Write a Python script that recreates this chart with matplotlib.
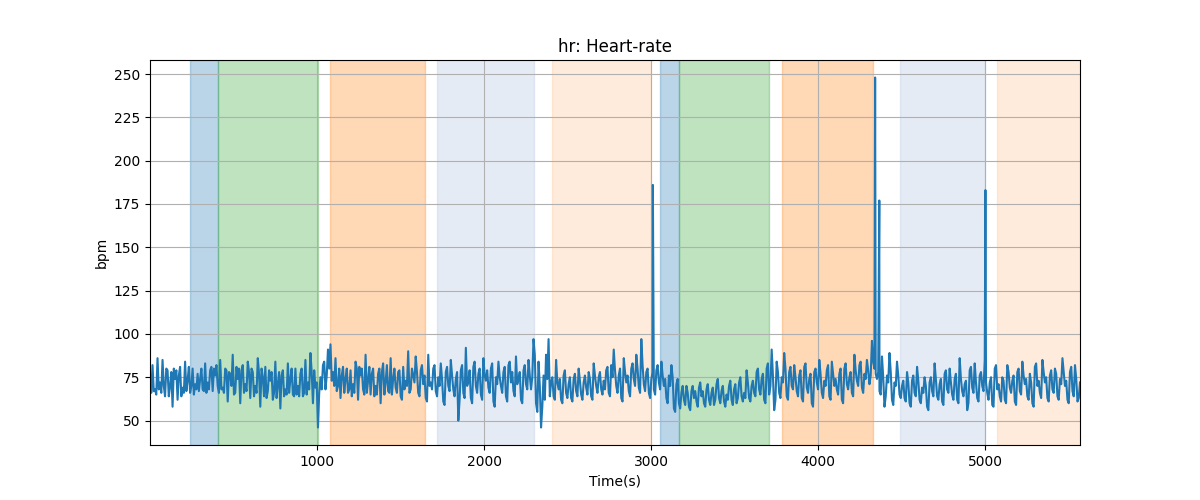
import matplotlib
matplotlib.use("Agg")
import matplotlib.pyplot as plt
import numpy as np

# heart rate: samples every 15 s ...
step = 15
hr = [
    76, 82, 68, 86, 72, 85, 64, 79, 70, 58, 74, 62, 81, 69, 84, 73, 66, 80, 71, 77,
    74, 68, 83, 72, 79, 67, 76, 70, 85, 69, 80, 61, 77, 88, 66, 74, 60, 82, 71, 84,
    63, 78, 70, 86, 58, 75, 81, 67, 73, 62, 84, 71, 57, 79, 68, 83, 74, 65, 80, 70,
    77, 64, 85, 72, 89, 60, 69, 46, 75, 82, 68, 91, 94, 78, 86, 70, 63, 81, 74, 66,
    79, 71, 84, 62, 76, 68, 88, 73, 65, 80, 70, 77, 60, 83, 72, 67, 86, 74, 69, 78,
    64, 81, 73, 90, 68, 76, 87, 66, 79, 71, 63, 88, 72, 80, 67, 75, 83, 61, 78, 70,
    85, 68, 74, 50, 79, 66, 92, 72, 63, 81, 70, 77, 65, 86, 73, 69, 80, 61, 75, 84,
    70, 78, 64, 82, 72, 67, 87, 74, 62, 79, 71, 85, 68, 97, 60, 84, 46, 76, 88, 97,
    72, 64, 85, 68, 62, 76, 66, 71, 63, 74, 67, 80, 65, 72, 69, 78, 64, 83, 70, 75,
    68, 73, 79, 66, 82, 91, 70, 76, 63, 86, 72, 67, 80, 74, 88, 69, 97, 71, 78, 66,
    74, 68, 79, 72, 84, 70, 63, 76, 82, 57, 71, 60, 66, 62, 70, 58, 67, 63, 61, 69,
    64, 60, 68, 62, 66, 59, 71, 63, 67, 61, 65, 70, 62, 68, 60, 72, 64, 66, 79, 63,
    70, 66, 78, 68, 74, 62, 80, 65, 91, 56, 84, 66, 75, 89, 64, 78, 70, 82, 67, 76,
    63, 81, 69, 74, 60, 78, 72, 85, 66, 73, 79, 64, 84, 70, 68, 77, 62, 80, 71, 75,
    66, 88, 73, 82, 69, 77, 85, 71, 96, 80, 74, 67, 87, 58, 76, 89, 62, 72, 84, 65,
    70, 63, 78, 60, 73, 66, 81, 62, 69, 75, 58, 72, 67, 83, 64, 71, 61, 77, 68, 80,
    65, 74, 62, 86, 67, 71, 56, 79, 69, 83, 63, 76, 70, 85, 66, 72, 59, 80, 68, 64,
    75, 62, 82, 69, 73, 61, 78, 67, 84, 71, 64, 77, 60, 81, 70, 66, 85, 72, 63, 76,
    68, 80, 64, 74, 86, 70, 62, 78, 67, 82, 61, 72,
]

# ... and the samples half-way between them
hr_mid = [
    66, 67, 65, 68, 66, 70, 80, 64, 78, 80, 79, 76, 64, 66, 67, 81, 70, 65, 68, 67,
    80, 67, 66, 68, 81, 80, 82, 66, 68, 66, 79, 78, 70, 65, 81, 80, 79, 66, 67, 78,
    80, 64, 66, 77, 80, 64, 63, 79, 78, 66, 63, 78, 76, 64, 65, 66, 80, 64, 65, 64,
    80, 66, 65, 68, 78, 79, 72, 66, 68, 84, 76, 80, 73, 70, 67, 80, 76, 66, 80, 68,
    64, 66, 80, 81, 80, 65, 66, 81, 77, 64, 65, 80, 78, 65, 82, 66, 65, 80, 66, 79,
    62, 68, 70, 66, 80, 72, 78, 64, 82, 76, 61, 70, 68, 82, 64, 70, 74, 59, 81, 67,
    76, 64, 78, 62, 82, 63, 70, 79, 60, 84, 66, 80, 62, 76, 79, 66, 83, 58, 71, 75,
    66, 81, 61, 84, 78, 64, 71, 78, 60, 82, 68, 76, 75, 88, 55, 70, 58, 62, 74, 64,
    75, 62, 72, 74, 60, 79, 63, 75, 61, 77, 64, 73, 62, 76, 65, 74, 62, 76, 66, 78,
    65, 68, 81, 64, 75, 79, 66, 80, 61, 78, 76, 64, 83, 70, 80, 66, 82, 67, 80, 63,
    78, 65, 82, 68, 76, 74, 60, 70, 75, 55, 74, 57, 70, 59, 66, 56, 70, 67, 58, 72,
    67, 58, 71, 59, 69, 62, 74, 60, 70, 58, 62, 73, 59, 71, 63, 75, 61, 63, 72, 61,
    73, 64, 80, 65, 77, 60, 83, 70, 76, 62, 78, 63, 72, 80, 62, 81, 68, 75, 64, 79,
    61, 83, 66, 77, 58, 80, 68, 77, 63, 70, 82, 62, 77, 74, 65, 80, 60, 83, 68, 78,
    64, 79, 70, 84, 66, 74, 79, 76, 84, 77, 78, 65, 75, 64, 72, 78, 59, 70, 76, 63,
    73, 61, 72, 58, 76, 64, 73, 60, 66, 70, 56, 75, 64, 74, 62, 74, 59, 79, 66, 72,
    62, 77, 60, 74, 64, 73, 60, 81, 66, 72, 61, 78, 67, 72, 62, 75, 58, 82, 71, 61,
    73, 60, 78, 66, 76, 59, 80, 65, 76, 74, 62, 72, 58, 83, 73, 63, 78, 75, 61, 79,
    66, 77, 62, 71, 78, 73, 60, 81, 64, 74, 63,
]

# isolated artefact spikes
spike_t = [3010, 4340, 4365, 5000]
spike_v = [186, 248, 177, 183]

# shaded segments
seg_start = [240, 407, 1078, 1719, 2407, 3054, 3168, 3784, 4491, 5072]
seg_end = [407, 1006, 1647, 2299, 3000, 3168, 3707, 4329, 5000, 5570]
seg_color = ["tab:blue", "tab:green", "tab:orange", "lightsteelblue", "tab:orange",
             "tab:blue", "tab:green", "tab:orange", "lightsteelblue", "tab:orange"]
seg_alpha = [0.3, 0.3, 0.3, 0.33, 0.15, 0.3, 0.3, 0.3, 0.33, 0.15]

t0 = 1
t = (list(t0 + np.arange(len(hr)) * step)
     + list(t0 + step / 2 + np.arange(len(hr_mid)) * step)
     + spike_t)
v = hr + hr_mid + spike_v
order = np.argsort(t)
t = np.array(t)[order]
v = np.array(v)[order]

fig, ax = plt.subplots(figsize=(12, 5), dpi=100)
for s, e, c, a in zip(seg_start, seg_end, seg_color, seg_alpha):
    ax.axvspan(s, e, color=c, alpha=a)
ax.plot(t, v, color="tab:blue")
ax.set_xlim(t[0], t[-1])
ax.set_title("hr: Heart-rate")
ax.set_xlabel("Time(s)")
ax.set_ylabel("bpm")
ax.grid(True)
fig.savefig("out.png")
